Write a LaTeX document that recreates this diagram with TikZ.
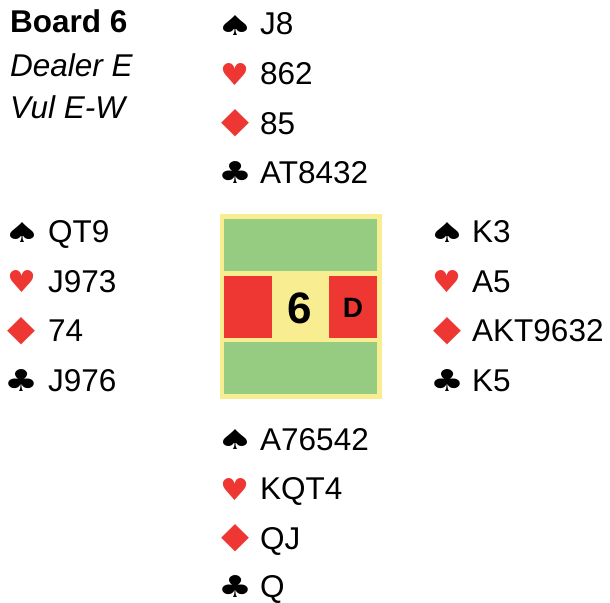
\documentclass[tikz,border=0pt]{standalone}
\usepackage{fontspec}
\setmainfont{Liberation Sans}
\newfontfamily\suitfont{DejaVu Sans}
\definecolor{boardgreen}{RGB}{150,203,130}
\definecolor{boardyellow}{RGB}{249,237,146}
\definecolor{suitred}{RGB}{238,55,50}
\newcommand{\spadeglyph}{\resizebox{37pt}{20pt}{\suitfont ♠}}
\newcommand{\heartglyph}{\resizebox{29pt}{22pt}{\suitfont ♥}}
\newcommand{\diamondglyph}{\resizebox{28pt}{23pt}{\suitfont ◆}}
\newcommand{\clubglyph}{\resizebox{34pt}{22pt}{\suitfont ♣}}
\begin{document}
\begin{tikzpicture}[x=1pt,y=-1pt,
  card/.style={anchor=base west,inner sep=0pt,font=\fontsize{31.5}{31.5}\selectfont},
  suit/.style={anchor=center,inner sep=0pt},
  redsuit/.style={suit,text=suitred},
  head/.style={anchor=base west,inner sep=0pt}]
\useasboundingbox (0,0) rectangle (610,602);
% header
\node[head,font=\bfseries\fontsize{31.5}{31.5}\selectfont] (hb) at (10,33) {Board 6};
\node[head,font=\itshape\fontsize{31.5}{31.5}\selectfont] (hd) at (10,77) {Dealer E};
\node[head,font=\itshape\fontsize{31.5}{31.5}\selectfont] (hv) at (10,118) {Vul E-W};
% board
\fill[boardyellow] (220,214) rectangle (382,399);
\fill[boardgreen] (224,219) rectangle (377,271);
\fill[boardgreen] (224,342) rectangle (377,394);
\fill[suitred] (224,276) rectangle (272,338);
\fill[suitred] (329,276) rectangle (377,338);
\node[inner sep=0pt,font=\bfseries\fontsize{44}{44}\selectfont] (bn) at (300,308) {6};
\node[inner sep=0pt,font=\bfseries\fontsize{28}{28}\selectfont] (bd) at (353,308) {D};
% North
\node[suit] (ns) at (235,25) {\spadeglyph};
\node[redsuit] (nh) at (235,74) {\heartglyph};
\node[redsuit] (nd) at (235,123.5) {\diamondglyph};
\node[suit] (nc) at (235,172.5) {\clubglyph};
\node[card] (nst) at (260,35) {J8};
\node[card] (nht) at (260,84.5) {862};
\node[card] (ndt) at (260,134) {85};
\node[card] (nct) at (260,183.5) {AT8432};
% West
\node[suit] (ws) at (22,232) {\spadeglyph};
\node[redsuit] (wh) at (22,281.5) {\heartglyph};
\node[redsuit] (wd) at (22,331) {\diamondglyph};
\node[suit] (wc) at (22,380.5) {\clubglyph};
\node[card] (wst) at (48,242.5) {QT9};
\node[card] (wht) at (48,292) {J973};
\node[card] (wdt) at (48,341.5) {74};
\node[card] (wct) at (48,391) {J976};
% East
\node[suit] (es) at (447,232) {\spadeglyph};
\node[redsuit] (eh) at (447,281.5) {\heartglyph};
\node[redsuit] (ed) at (447,331) {\diamondglyph};
\node[suit] (ec) at (447,380.5) {\clubglyph};
\node[card] (est) at (472,242.5) {K3};
\node[card] (eht) at (472,292) {A5};
\node[card] (edt) at (472,341.5) {AKT9632};
\node[card] (ect) at (472,391) {K5};
% South
\node[suit] (ss) at (235,439.5) {\spadeglyph};
\node[redsuit] (sh) at (235,489) {\heartglyph};
\node[redsuit] (sd) at (235,538.5) {\diamondglyph};
\node[suit] (sc) at (235,586.5) {\clubglyph};
\node[card] (sst) at (260,450) {A76542};
\node[card] (sht) at (260,499.5) {KQT4};
\node[card] (sdt) at (260,549) {QJ};
\node[card] (sct) at (260,597) {Q};
\end{tikzpicture}
\end{document}
